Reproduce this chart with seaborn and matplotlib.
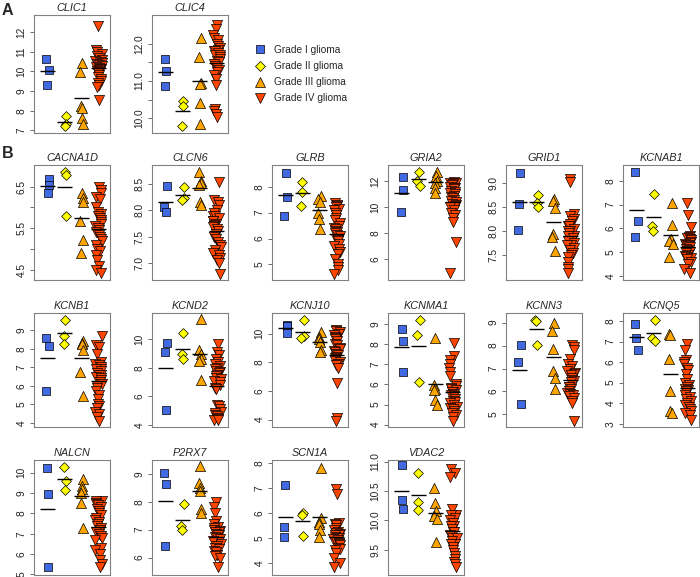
import numpy as np
import pandas as pd
import matplotlib
matplotlib.use('Agg')
import matplotlib.pyplot as plt
from matplotlib.lines import Line2D
import seaborn as sns

GRADES = ['Grade I glioma', 'Grade II glioma', 'Grade III glioma', 'Grade IV glioma']

# expression values per gene: [grade I, grade II, grade III, grade IV]
CLIC1 = [
    [10.63, 10.08, 9.32],
    [7.71, 7.34, 7.24],
    [10.42, 9.95, 8.25, 8.14, 7.63, 7.34],
    [12.32, 11.1, 11.0, 10.9, 10.8, 10.7, 10.6, 10.55, 10.5, 10.45, 10.4, 10.35, 10.3, 10.25, 10.2,
     10.15, 10.1, 10.05, 10.0, 9.95, 9.9, 9.8, 9.7, 9.6, 9.5, 9.4, 9.3, 9.2, 8.56],
]
CLIC4 = [
    [11.59, 11.26, 10.87],
    [10.45, 10.33, 9.80],
    [12.15, 11.66, 10.96, 10.91, 10.42, 9.85],
    [12.51, 12.4, 12.25, 12.15, 12.1, 12.0, 11.95, 11.9, 11.85, 11.8, 11.8, 11.75, 11.7, 11.7, 11.65,
     11.6, 11.55, 11.5, 11.45, 11.4, 11.35, 11.3, 11.25, 11.15, 11.05, 10.9, 10.25, 10.2, 10.1, 10.03],
]
CACNA1D = [
    [6.68, 6.54, 6.34],
    [6.86, 6.78, 5.80],
    [6.34, 6.22, 6.14, 5.68, 5.22, 4.90],
    [6.48, 6.42, 6.35, 6.25, 6.2, 6.0, 5.9, 5.85, 5.8, 5.75, 5.7, 5.65, 5.6, 5.55, 5.5, 5.45, 5.4,
     5.35, 5.3, 5.25, 5.2, 5.1, 5.0, 4.95, 4.85, 4.75, 4.6, 4.5, 4.42],
]
CLCN6 = [
    [8.46, 8.07, 7.97],
    [8.45, 8.23, 8.20],
    [8.73, 8.56, 8.52, 8.48, 8.16, 8.1],
    [8.54, 8.2, 8.15, 8.1, 8.0, 7.95, 7.9, 7.9, 7.85, 7.8, 7.8, 7.75, 7.72, 7.7, 7.68, 7.65, 7.6,
     7.55, 7.5, 7.45, 7.4, 7.35, 7.3, 7.25, 7.2, 7.15, 7.1, 7.05, 7.0, 6.8],
]
GLRB = [
    [8.54, 7.59, 6.87],
    [8.19, 7.78, 7.25],
    [7.65, 7.51, 7.42, 7.0, 6.74, 6.35],
    [7.36, 7.3, 7.25, 7.2, 7.15, 7.1, 7.0, 6.9, 6.8, 6.7, 6.6, 6.5, 6.4, 6.35, 6.3, 6.25, 6.2, 6.15,
     6.1, 6.0, 5.95, 5.9, 5.8, 5.7, 5.6, 5.5, 5.4, 5.2, 5.0, 4.9, 4.8, 4.65],
]
GRIA2 = [
    [12.38, 11.35, 9.62],
    [12.71, 12.07, 11.68],
    [12.71, 12.43, 12.0, 11.86, 11.48, 11.09],
    [11.95, 11.9, 11.85, 11.8, 11.7, 11.6, 11.5, 11.5, 11.4, 11.3, 11.2, 11.1, 11.0, 10.9, 10.8,
     10.7, 10.6, 10.5, 10.4, 10.3, 10.2, 10.1, 10.0, 9.8, 9.6, 9.4, 9.2, 8.9, 7.36, 4.92],
]
GRID1 = [
    [9.21, 8.56, 8.02],
    [8.74, 8.58, 8.50],
    [8.67, 8.62, 8.47, 7.94, 7.88, 7.59],
    [9.07, 9.02, 8.35, 8.3, 8.25, 8.2, 8.15, 8.1, 8.1, 8.05, 8.0, 8.0, 7.95, 7.9, 7.9, 7.85, 7.8,
     7.75, 7.7, 7.7, 7.65, 7.6, 7.55, 7.5, 7.45, 7.35, 7.25, 7.2, 7.12],
]
KCNAB1 = [
    [8.36, 6.33, 5.66],
    [7.45, 6.12, 5.89],
    [7.09, 6.15, 5.56, 5.47, 5.35, 4.79],
    [7.06, 6.57, 6.05, 5.7, 5.65, 5.6, 5.55, 5.5, 5.45, 5.4, 5.35, 5.3, 5.3, 5.25, 5.2, 5.15, 5.1,
     5.05, 5.0, 4.95, 4.9, 4.85, 4.8, 4.75, 4.7, 4.6, 4.5, 4.3, 4.11],
]
KCNB1 = [
    [8.6, 8.13, 5.71],
    [9.54, 8.69, 8.28],
    [8.42, 8.3, 8.24, 7.95, 6.74, 5.43],
    [8.69, 8.2, 8.1, 7.7, 7.3, 7.2, 7.1, 7.0, 6.9, 6.9, 6.8, 6.7, 6.6, 6.6, 6.5, 6.4, 6.3, 6.2, 6.1,
     6.0, 5.9, 5.7, 5.5, 5.3, 5.0, 4.9, 4.8, 4.6, 4.5, 4.3, 4.07],
]
KCND2 = [
    [9.74, 9.1, 5.05],
    [10.44, 8.94, 8.59],
    [11.45, 9.27, 8.94, 8.64, 8.5, 7.16],
    [9.69, 9.1, 8.9, 8.6, 8.4, 8.3, 8.1, 8.0, 7.9, 7.8, 7.7, 7.6, 7.5, 7.4, 7.3, 7.2, 7.1, 7.0, 6.8,
     6.6, 6.5, 5.4, 5.3, 5.1, 4.9, 4.8, 4.7, 4.6, 4.5, 4.4, 4.35, 4.3],
]
KCNJ10 = [
    [10.63, 10.55, 10.07],
    [10.93, 9.81, 9.70],
    [10.12, 9.8, 9.6, 9.45, 8.84, 8.7],
    [10.28, 10.2, 10.1, 10.0, 9.9, 9.8, 9.7, 9.6, 9.5, 9.3, 9.2, 9.0, 8.9, 8.8, 8.7, 8.6, 8.5, 8.4,
     8.3, 8.2, 8.1, 8.0, 7.9, 7.8, 7.6, 6.56, 4.14, 3.9],
]
KCNMA1 = [
    [8.78, 8.15, 6.62],
    [9.2, 8.45, 6.13],
    [8.29, 5.96, 5.79, 5.71, 5.25, 5.0],
    [8.07, 7.4, 7.2, 7.0, 6.8, 6.6, 6.4, 6.0, 5.9, 5.8, 5.75, 5.7, 5.6, 5.6, 5.5, 5.45, 5.4, 5.3,
     5.2, 5.15, 5.1, 5.0, 4.9, 4.85, 4.8, 4.7, 4.6, 4.5, 4.4, 4.2],
]
KCNN3 = [
    [8.04, 7.28, 5.47],
    [9.1, 9.06, 8.04],
    [9.0, 8.64, 7.87, 6.88, 6.6, 6.09],
    [8.04, 7.95, 7.8, 7.4, 7.2, 7.1, 7.0, 6.9, 6.8, 6.75, 6.7, 6.6, 6.5, 6.45, 6.4, 6.3, 6.2, 6.2,
     6.1, 6.0, 5.95, 5.9, 5.85, 5.8, 5.7, 5.6, 5.5, 4.69],
]
KCNQ5 = [
    [7.87, 7.17, 6.57],
    [8.03, 7.17, 7.03],
    [7.38, 7.33, 6.13, 4.59, 3.62, 3.54],
    [6.9, 6.6, 6.1, 6.0, 5.9, 5.7, 5.6, 5.4, 5.2, 5.0, 4.9, 4.8, 4.7, 4.65, 4.6, 4.5, 4.4, 4.3, 4.2,
     4.1, 4.0, 3.9, 3.8, 3.7, 3.6, 3.5, 3.4, 3.2],
]
NALCN = [
    [10.25, 8.96, 5.38],
    [10.3, 9.59, 9.17],
    [9.7, 9.34, 9.21, 9.0, 8.51, 7.28],
    [8.63, 8.6, 8.5, 8.45, 8.4, 8.3, 8.2, 8.1, 8.0, 7.9, 7.8, 7.7, 7.6, 7.5, 7.4, 7.3, 7.2, 7.1,
     7.0, 6.9, 6.8, 6.7, 6.3, 6.2, 6.0, 5.7, 5.5, 5.35],
]
P2RX7 = [
    [9.01, 8.65, 6.43],
    [7.9, 7.12, 7.0],
    [9.28, 8.68, 8.5, 8.38, 7.75, 7.6],
    [7.98, 7.8, 7.6, 7.3, 7.2, 7.1, 7.05, 7.0, 6.95, 6.9, 6.9, 6.85, 6.8, 6.8, 6.75, 6.7, 6.65, 6.6,
     6.5, 6.4, 6.35, 6.3, 6.25, 6.2, 6.1, 6.05, 6.0, 5.65],
]
SCN1A = [
    [7.12, 5.43, 5.03],
    [5.99, 5.93, 5.06],
    [7.8, 5.8, 5.62, 5.56, 5.32, 5.03],
    [6.98, 6.75, 5.6, 5.55, 5.5, 5.4, 5.3, 5.25, 5.2, 5.15, 5.1, 5.1, 5.05, 5.0, 5.0, 4.95, 4.9,
     4.85, 4.8, 4.75, 4.7, 4.6, 4.55, 4.5, 4.4, 4.2, 4.0, 3.82],
]
VDAC2 = [
    [10.94, 10.34, 10.2],
    [10.8, 10.32, 10.18],
    [10.55, 10.3, 10.16, 10.07, 10.02, 9.63],
    [10.88, 10.8, 10.74, 10.2, 10.1, 10.1, 10.05, 10.0, 9.95, 9.9, 9.9, 9.85, 9.8, 9.8, 9.75, 9.7,
     9.7, 9.65, 9.6, 9.6, 9.55, 9.5, 9.45, 9.4, 9.35, 9.3, 9.25, 9.21],
]

# y ticks (value, label) per gene; empty label = unlabeled tick like R
YTICKS = {
    'CLIC1': ([7, 8, 9, 10, 11, 12], ['7', '8', '9', '10', '11', '12']),
    'CLIC4': ([10.0, 10.5, 11.0, 11.5, 12.0], ['10.0', '', '11.0', '', '12.0']),
    'CACNA1D': ([4.5, 5.0, 5.5, 6.0, 6.5], ['4.5', '', '5.5', '', '6.5']),
    'CLCN6': ([7.0, 7.5, 8.0, 8.5], ['7.0', '7.5', '8.0', '8.5']),
    'GLRB': ([5, 6, 7, 8], ['5', '6', '7', '8']),
    'GRIA2': ([6, 8, 10, 12], ['6', '8', '10', '12']),
    'GRID1': ([7.5, 8.0, 8.5, 9.0], ['7.5', '8.0', '8.5', '9.0']),
    'KCNAB1': ([4, 5, 6, 7, 8], ['4', '5', '6', '7', '8']),
    'KCNB1': ([4, 5, 6, 7, 8, 9], ['4', '5', '6', '7', '8', '9']),
    'KCND2': ([4, 6, 8, 10], ['4', '6', '8', '10']),
    'KCNJ10': ([4, 6, 8, 10], ['4', '6', '8', '10']),
    'KCNMA1': ([4, 5, 6, 7, 8, 9], ['4', '5', '6', '7', '8', '9']),
    'KCNN3': ([5, 6, 7, 8, 9], ['5', '6', '7', '8', '9']),
    'KCNQ5': ([3, 4, 5, 6, 7, 8], ['3', '4', '5', '6', '7', '8']),
    'NALCN': ([5, 6, 7, 8, 9, 10], ['5', '6', '7', '8', '9', '10']),
    'P2RX7': ([6, 7, 8, 9], ['6', '7', '8', '9']),
    'SCN1A': ([4, 5, 6, 7, 8], ['4', '5', '6', '7', '8']),
    'VDAC2': ([9.5, 10.0, 10.5, 11.0], ['9.5', '10.0', '10.5', '11.0']),
}

YLIMS = {
    'CLIC1': (6.86, 12.88), 'CLIC4': (9.6, 12.78), 'CACNA1D': (4.26, 7.02),
    'CLCN6': (6.68, 8.86), 'GLRB': (4.4, 8.84), 'GRIA2': (4.41, 13.27),
    'GRID1': (6.98, 9.37), 'KCNAB1': (3.83, 8.67), 'KCNB1': (3.77, 9.94),
    'KCND2': (3.84, 11.85), 'KCNJ10': (3.49, 11.44), 'KCNMA1': (3.88, 9.56),
    'KCNN3': (4.45, 9.42), 'KCNQ5': (2.84, 8.39), 'NALCN': (4.97, 10.63),
    'P2RX7': (5.38, 9.49), 'SCN1A': (3.51, 8.13), 'VDAC2': (9.07, 11.03),
}

STYLES = [
    dict(color='#4169E1', marker='s', size=5.3, jitter=0.1),
    dict(color='#FFFF00', marker='D', size=5.0, jitter=0.1),
    dict(color='#FFA500', marker='^', size=7.3, jitter=0.1),
    dict(color='#FF4500', marker='v', size=7.3, jitter=0.22),
]

sns.set_style('white')
plt.rcParams['font.family'] = ['Liberation Sans', 'DejaVu Sans']

W, H = 700, 577
fig = plt.figure(figsize=(W / 100, H / 100), dpi=100)

COLS = [34, 152, 272, 388, 506, 623]
ROWS = {'A': (15, 133), 1: (165, 280), 2: (313, 427), 3: (460, 575)}
PANELS = [
    ('CLIC1', CLIC1, 'A', 0), ('CLIC4', CLIC4, 'A', 1),
    ('CACNA1D', CACNA1D, 1, 0), ('CLCN6', CLCN6, 1, 1), ('GLRB', GLRB, 1, 2),
    ('GRIA2', GRIA2, 1, 3), ('GRID1', GRID1, 1, 4), ('KCNAB1', KCNAB1, 1, 5),
    ('KCNB1', KCNB1, 2, 0), ('KCND2', KCND2, 2, 1), ('KCNJ10', KCNJ10, 2, 2),
    ('KCNMA1', KCNMA1, 2, 3), ('KCNN3', KCNN3, 2, 4), ('KCNQ5', KCNQ5, 2, 5),
    ('NALCN', NALCN, 3, 0), ('P2RX7', P2RX7, 3, 1), ('SCN1A', SCN1A, 3, 2), ('VDAC2', VDAC2, 3, 3),
]

np.random.seed(7)


def draw_panel(ax, name, groups):
    df = pd.DataFrame({
        'grade': np.repeat(GRADES, [len(g) for g in groups]),
        'value': np.concatenate(groups),
    })
    for grade, st in zip(GRADES, STYLES):
        sns.stripplot(data=df[df.grade == grade], x='grade', y='value', order=GRADES, ax=ax,
                      color=st['color'], marker=st['marker'], size=st['size'], jitter=st['jitter'],
                      edgecolor='black', linewidth=0.5, zorder=3)
    means = df.groupby('grade')['value'].mean().reindex(GRADES).values
    pos = np.arange(len(GRADES))
    ax.hlines(means, pos - 0.44, pos + 0.44, color='black', lw=1.0, zorder=5)

    ax.set_xlim(-0.8, 3.65)
    ax.set_ylim(*YLIMS[name])
    ticks, labels = YTICKS[name]
    ax.set_yticks(ticks)
    ax.set_yticklabels(labels, rotation=90, va='center', fontsize=7.3)
    ax.set_xticks([])
    ax.set_xlabel('')
    ax.set_ylabel('')
    ax.tick_params(axis='y', direction='out', length=3, width=0.6, color='#555555', pad=2.5,
                   left=True, labelcolor='#222222')
    for sp in ax.spines.values():
        sp.set_color('#808080')
        sp.set_linewidth(0.8)
    ax.set_title(name, fontstyle='italic', fontsize=7.8, pad=3)


for name, groups, row, col in PANELS:
    top, bottom = ROWS[row]
    ax = fig.add_axes([COLS[col] / W, 1 - bottom / H, 76 / W, (bottom - top) / H])
    draw_panel(ax, name, groups)

fig.text(2 / W, 1 - 3 / H, 'A', fontsize=11.5, fontweight='bold', va='top')
fig.text(2 / W, 1 - 146 / H, 'B', fontsize=11.5, fontweight='bold', va='top')

handles = [Line2D([], [], linestyle='none', marker=st['marker'], markersize=st['size'],
                  markerfacecolor=st['color'], markeredgecolor='black', markeredgewidth=0.5)
           for st in STYLES]
fig.legend(handles, GRADES, loc='upper left', bbox_to_anchor=(255 / W, 1 - 45 / H),
           frameon=False, fontsize=7.3, handlelength=1.0, handletextpad=0.9,
           labelspacing=0.6, borderpad=0, borderaxespad=0)

fig.savefig('out.png', dpi=100)
